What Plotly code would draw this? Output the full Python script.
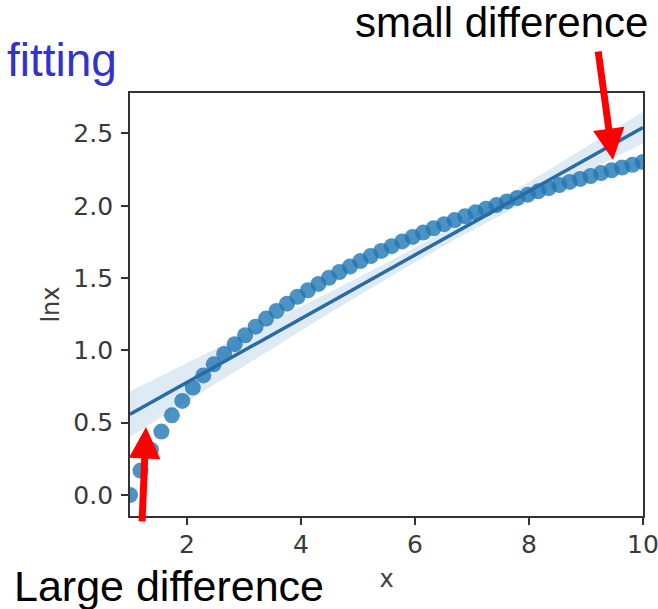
import numpy as np
import plotly.graph_objects as go

# ---- data ----
x_vals = [1.000, 1.184, 1.367, 1.551, 1.735, 1.918, 2.102, 2.286, 2.469, 2.653,
          2.837, 3.020, 3.204, 3.388, 3.571, 3.755, 3.939, 4.122, 4.306, 4.490,
          4.673, 4.857, 5.041, 5.224, 5.408, 5.592, 5.776, 5.959, 6.143, 6.327,
          6.510, 6.694, 6.878, 7.061, 7.245, 7.429, 7.612, 7.796, 7.980, 8.163,
          8.347, 8.531, 8.714, 8.898, 9.082, 9.265, 9.449, 9.633, 9.816, 10.000]
lnx_vals = [0.000, 0.169, 0.313, 0.439, 0.551, 0.651, 0.743, 0.827, 0.904, 0.976,
            1.043, 1.105, 1.164, 1.220, 1.273, 1.323, 1.371, 1.416, 1.460, 1.502,
            1.542, 1.580, 1.618, 1.653, 1.688, 1.721, 1.754, 1.785, 1.815, 1.845,
            1.873, 1.901, 1.928, 1.955, 1.980, 2.005, 2.030, 2.054, 2.077, 2.100,
            2.122, 2.144, 2.165, 2.186, 2.206, 2.226, 2.246, 2.265, 2.284, 2.303]
x_ticks = [2, 4, 6, 8, 10]
y_ticks = [0.0, 0.5, 1.0, 1.5, 2.0, 2.5]
y_tick_text = ["0.0", "0.5", "1.0", "1.5", "2.0", "2.5"]

# ---- linear regression with robust (sandwich) confidence band ----
x = np.array(x_vals)
y = np.array(lnx_vals)
X = np.column_stack([np.ones_like(x), x])
XtX_inv = np.linalg.inv(X.T @ X)
beta = XtX_inv @ X.T @ y
resid = y - X @ beta
meat = X.T @ (X * (resid ** 2)[:, None])
V = XtX_inv @ meat @ XtX_inv * len(x) / (len(x) - 2)
xg = np.linspace(x.min(), x.max(), 100)
Xg = np.column_stack([np.ones_like(xg), xg])
yg = Xg @ beta
se = np.sqrt(np.einsum("ij,jk,ik->i", Xg, V, Xg))
upper = yg + 1.96 * 1.15 * se
lower = yg - 1.96 * 1.15 * se

fig = go.Figure()
fig.add_trace(go.Scatter(x=np.concatenate([xg, xg[::-1]]),
                         y=np.concatenate([upper, lower[::-1]]),
                         fill="toself", fillcolor="rgba(31,119,180,0.15)",
                         line=dict(width=0), mode="lines", hoverinfo="skip",
                         showlegend=False))
fig.add_trace(go.Scatter(x=x, y=y, mode="markers",
                         marker=dict(size=16, color="rgba(31,119,180,0.8)", line=dict(width=0)),
                         showlegend=False))
fig.add_trace(go.Scatter(x=xg, y=yg, mode="lines",
                         line=dict(color="#2a6aa5", width=3.5), showlegend=False))

axis_common = dict(showline=True, mirror=True, linecolor="#333333", linewidth=1.8,
                   ticks="outside", ticklen=7, tickwidth=1.8, tickcolor="#333333",
                   showgrid=False, zeroline=False, automargin=False,
                   ticklabeloverflow="allow",
                   tickfont=dict(family="DejaVu Sans", size=25, color="#3a3a3a"))

fig.update_xaxes(range=[1, 10], tickvals=x_ticks, ticklabelstandoff=-2,
                 title=dict(text="x", font=dict(family="DejaVu Sans", size=24, color="#404040"),
                            standoff=12),
                 **axis_common)
fig.update_yaxes(range=[-0.145, 2.78], tickvals=y_ticks, ticktext=y_tick_text,
                 ticklabelstandoff=3,
                 title=dict(text="lnx", font=dict(family="DejaVu Sans", size=24, color="#404040"),
                            standoff=7),
                 **axis_common)

def px(xp):
    return (xp - 130) / 513.0

def py(yp):
    return (516 - yp) / 423.0

annotations = [
    dict(text="fitting", x=px(5), y=py(60), xref="paper", yref="paper",
         xanchor="left", yanchor="middle", showarrow=False,
         font=dict(family="Liberation Sans", size=46, color="#3333cc")),
    dict(text="small difference", x=px(501), y=py(22), xref="paper", yref="paper",
         xanchor="center", yanchor="middle", showarrow=False,
         font=dict(family="Liberation Sans", size=42, color="black")),
    dict(text="Large difference", x=px(169), y=py(586), xref="paper", yref="paper",
         xanchor="center", yanchor="middle", showarrow=False,
         font=dict(family="Liberation Sans", size=43, color="black")),
    dict(text="", x=px(613), y=py(160), xref="paper", yref="paper",
         ax=-15, ay=-110, showarrow=True, arrowhead=2, arrowsize=0.9,
         arrowwidth=7, arrowcolor="#ff0000", standoff=0),
    dict(text="", x=px(146), y=py(427), xref="paper", yref="paper",
         ax=-4, ay=96, showarrow=True, arrowhead=2, arrowsize=0.9,
         arrowwidth=7, arrowcolor="#ff0000", standoff=0),
]

fig.update_layout(width=658, height=609,
                  margin=dict(l=130, r=15, t=93, b=93),
                  paper_bgcolor="white", plot_bgcolor="white",
                  annotations=annotations)

fig.write_html("out.html",
               config={"displayModeBar": False},
               post_script="document.body.style.margin='0px';"
                           "document.body.style.overflow='hidden';")
